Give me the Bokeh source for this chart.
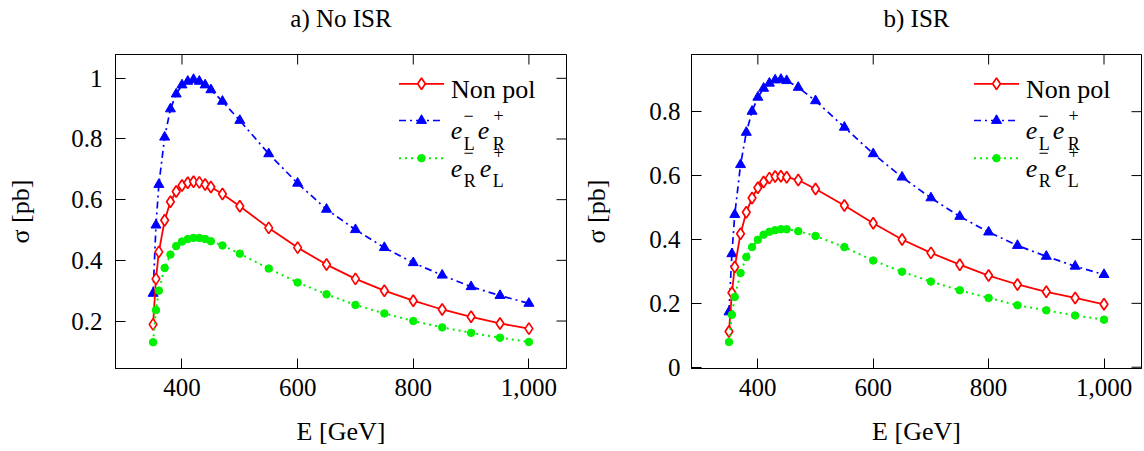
from bokeh.plotting import figure
from bokeh.models import Range1d, FixedTicker, LinearAxis
from bokeh.layouts import row
from bokeh.embed import file_html
from bokeh.resources import INLINE
from bokeh.core.properties import value

# ---------------- data ----------------
energy = [350, 355, 360, 370, 380, 390, 400, 410, 420, 430, 440, 450, 470, 500,
          550, 600, 650, 700, 750, 800, 850, 900, 950, 1000]

# a) No ISR
nonpol_noisr = [0.189, 0.339, 0.428, 0.532, 0.593, 0.627, 0.647, 0.656, 0.659, 0.657,
                0.650, 0.642, 0.619, 0.578, 0.507, 0.442, 0.386, 0.339, 0.300, 0.267,
                0.238, 0.214, 0.192, 0.175]
lr_noisr = [0.291, 0.516, 0.650, 0.806, 0.899, 0.948, 0.978, 0.990, 0.996, 0.990,
            0.978, 0.962, 0.924, 0.861, 0.751, 0.654, 0.568, 0.501, 0.442, 0.392,
            0.351, 0.313, 0.284, 0.258]
rl_noisr = [0.130, 0.236, 0.300, 0.375, 0.419, 0.447, 0.462, 0.470, 0.474, 0.474,
            0.470, 0.463, 0.449, 0.422, 0.373, 0.327, 0.288, 0.253, 0.225, 0.200,
            0.179, 0.161, 0.145, 0.131]

# b) ISR
nonpol_isr = [0.112, 0.233, 0.314, 0.418, 0.485, 0.530, 0.562, 0.580, 0.592, 0.597,
              0.598, 0.595, 0.586, 0.558, 0.506, 0.451, 0.400, 0.358, 0.321, 0.287,
              0.259, 0.236, 0.217, 0.197]
lr_isr = [0.173, 0.355, 0.478, 0.634, 0.735, 0.801, 0.845, 0.873, 0.889, 0.899,
          0.901, 0.897, 0.876, 0.834, 0.751, 0.668, 0.595, 0.530, 0.472, 0.423,
          0.381, 0.347, 0.316, 0.290]
rl_isr = [0.079, 0.164, 0.220, 0.295, 0.345, 0.376, 0.399, 0.415, 0.424, 0.429,
          0.432, 0.432, 0.426, 0.411, 0.376, 0.334, 0.299, 0.268, 0.241, 0.217,
          0.194, 0.178, 0.162, 0.149]

x_ticks = [400, 600, 800, 1000]
x_tick_labels = ["400", "600", "800", "1,000"]
y_ticks_a = [0.2, 0.4, 0.6, 0.8, 1.0]
y_tick_labels_a = ["0.2", "0.4", "0.6", "0.8", "1"]
y_ticks_b = [0.0, 0.2, 0.4, 0.6, 0.8]
y_tick_labels_b = ["0", "0.2", "0.4", "0.6", "0.8"]

titles = ["a) No ISR", "b) ISR"]
x_label = "E [GeV]"
y_label = "σ [pb]"
legend_main = "Non pol"

# ---------------- style ----------------
FONT = "'Liberation Serif', 'DejaVu Serif', serif"
RED, BLUE, GREEN = "#ff0000", "#0000ff", "#00f000"
DASHDOT = "7 4 2 4"
DOTTED = "2 4"
H = 451
TOP = 54
FH = 314
X_RANGE = (285, 1065)
TICK = 10  # inward tick length, px


def style_axis(ax, ticks, labels, standoff, label, label_standoff):
    ax.ticker = FixedTicker(ticks=ticks)
    ax.major_tick_in = TICK
    ax.major_tick_out = 0
    ax.minor_tick_line_color = None
    ax.axis_line_color = "black"
    ax.major_tick_line_color = "black"
    ax.major_label_text_font = FONT
    ax.major_label_text_color = "black"
    ax.major_label_text_font_size = "25px"
    ax.major_label_standoff = standoff
    ax.major_label_overrides = {t: l for t, l in zip(ticks, labels)}
    ax.axis_label = label
    ax.axis_label_text_font = FONT
    ax.axis_label_text_font_size = "26px"
    ax.axis_label_text_font_style = "normal"
    ax.axis_label_text_color = "black"
    ax.axis_label_standoff = label_standoff


def make_panel(title, nonpol, lr, rl, yr, yticks, ylabels, width, bl, fw, br,
               ystand, ylab_stand):
    p = figure(width=width, height=H, x_range=Range1d(*X_RANGE), y_range=Range1d(*yr),
               output_backend="svg", toolbar_location=None, title=None,
               min_border_left=bl, min_border_right=br, min_border_top=TOP,
               min_border_bottom=H - TOP - FH)
    p.grid.visible = False
    p.outline_line_color = "black"
    p.outline_line_width = 1
    p.background_fill_color = "white"
    p.border_fill_color = "white"

    style_axis(p.xaxis[0], x_ticks, x_tick_labels, 10, x_label, 18)
    style_axis(p.yaxis[0], yticks, ylabels, ystand, y_label, ylab_stand)

    # title drawn as the label of a tick-less axis above the frame
    tax = LinearAxis(ticker=FixedTicker(ticks=[]), axis_line_color=None,
                     major_tick_line_color=None, minor_tick_line_color=None,
                     major_label_standoff=0, major_tick_out=0, major_tick_in=0,
                     axis_label=title, axis_label_text_font=FONT,
                     axis_label_text_font_size="25px",
                     axis_label_text_font_style="normal",
                     axis_label_text_color="black", axis_label_standoff=23)
    p.add_layout(tax, "above")

    x0, x1 = X_RANGE
    y0, y1 = yr

    def X(dx):  # px from frame right -> data
        return x1 - dx / fw * (x1 - x0)

    def Y(dy):  # px from frame top -> data
        return y1 - dy / FH * (y1 - y0)

    # inward ticks on top and right frame edges
    ty = Y(TICK)
    p.segment(x0=x_ticks, y0=[y1] * len(x_ticks), x1=x_ticks, y1=[ty] * len(x_ticks),
              line_color="black", line_width=1)
    tx = X(TICK)
    p.segment(x0=[x1] * len(yticks), y0=yticks, x1=[tx] * len(yticks), y1=yticks,
              line_color="black", line_width=1)

    # series
    p.line(energy, lr, line_color=BLUE, line_width=1.7, line_dash=DASHDOT)
    p.scatter(energy, lr, marker="triangle", size=10, fill_color=BLUE, line_color=BLUE)
    p.line(energy, nonpol, line_color=RED, line_width=1.8)
    p.scatter(energy, nonpol, marker="diamond", size=11.5, fill_color="white",
              line_color=RED, line_width=1.7)
    p.line(energy, rl, line_color=GREEN, line_width=2, line_dash=DOTTED)
    p.scatter(energy, rl, marker="circle", size=7.5, fill_color=GREEN, line_color=GREEN)

    # legend (pixel offsets from frame top-right, converted to data units)
    rows = [29.3, 66.0, 103.7]
    styles = [
        (RED, None, "diamond", 11.5, "white", 1.8),
        (BLUE, DASHDOT, "triangle", 10, BLUE, 1.7),
        (GREEN, DOTTED, "circle", 7.5, GREEN, 2),
    ]
    for r, (col, dash, mk, sz, fill, lw) in zip(rows, styles):
        kw = dict(line_color=col, line_width=lw)
        if dash:
            kw["line_dash"] = dash
        p.line([X(167.5), X(122.5)], [Y(r), Y(r)], **kw)
        p.scatter([X(145)], [Y(r)], marker=mk, size=sz, fill_color=fill,
                  line_color=col, line_width=1.7 if mk == "diamond" else 1)

    tf = value(FONT)
    p.text([X(115.5)], [Y(rows[0] + 6)], text=[legend_main], text_font=tf,
           text_font_size=value("26px"), text_baseline="alphabetic", text_color="black")

    def ee(r, s1, s2):
        base = Y(r + 10)
        sup = Y(r - 5.5)
        sub = Y(r + 23)
        big = dict(text_font=tf, text_font_size=value("26px"), text_font_style="italic",
                   text_baseline="alphabetic", text_color="black")
        small = dict(text_font=tf, text_font_size=value("18px"),
                     text_baseline="alphabetic", text_color="black")
        e2 = 88.7 if s1 == "L" else 86.7
        p.text([X(115.7), X(e2)], [base, base], text=["e", "e"], **big)
        p.text([X(103), X(73)], [sup, sup], text=["\u2212", "+"], **small)
        p.text([X(102.7), X(73.7)], [sub, sub], text=[s1, s2], **small)

    ee(rows[1], "L", "R")
    ee(rows[2], "R", "L")
    return p


p1 = make_panel(titles[0], nonpol_noisr, lr_noisr, rl_noisr, (0.0435, 1.0785),
                y_ticks_a, y_tick_labels_a, width=578, bl=115, fw=451, br=12,
                ystand=13, ylab_stand=33)
p2 = make_panel(titles[1], nonpol_isr, lr_isr, rl_isr, (-0.004, 0.979),
                y_ticks_b, y_tick_labels_b, width=566, bl=113, fw=450, br=3,
                ystand=11, ylab_stand=35)

layout = row(p1, p2)
open("out.html", "w").write(file_html(layout, INLINE))
